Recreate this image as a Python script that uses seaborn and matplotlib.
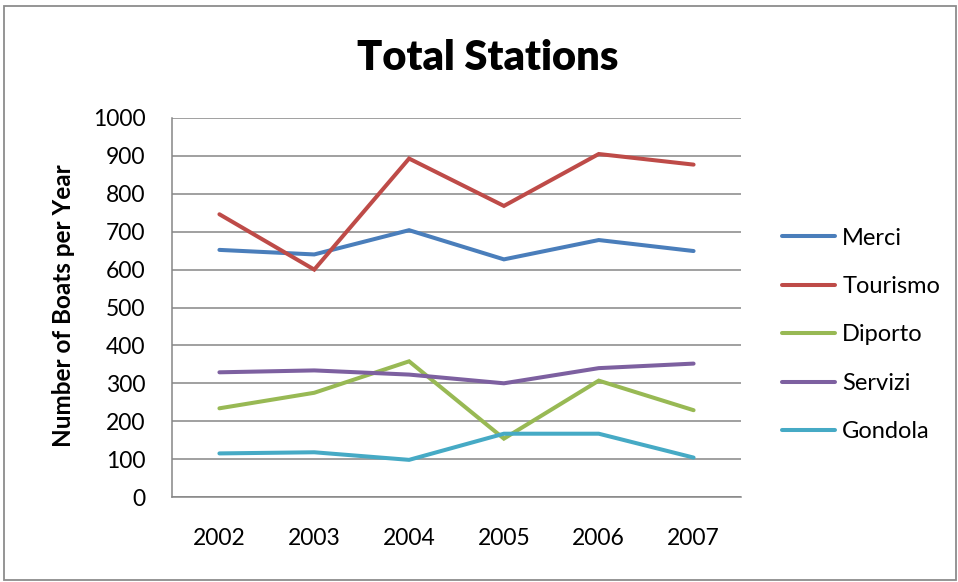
import matplotlib
matplotlib.use('Agg')
import matplotlib.pyplot as plt
import seaborn as sns
import pandas as pd
from matplotlib.patches import Rectangle

# --- data ---
years = ['2002', '2003', '2004', '2005', '2006', '2007']
merci = [652, 640, 704, 627, 678, 649]
tourismo = [746, 600, 893, 768, 905, 877]
diporto = [234, 275, 358, 154, 307, 229]
servizi = [329, 334, 323, 300, 340, 352]
gondola = [115, 118, 98, 167, 167, 104]

series_names = ['Merci', 'Tourismo', 'Diporto', 'Servizi', 'Gondola']
colors = ['#4A7EBB', '#BE4B48', '#98B954', '#7D60A0', '#46AAC5']

df = pd.DataFrame({'Year': years, 'Merci': merci, 'Tourismo': tourismo,
                   'Diporto': diporto, 'Servizi': servizi, 'Gondola': gondola})
df_long = df.melt(id_vars='Year', var_name='Type', value_name='Boats')

sns.set_style('white')
plt.rcParams['font.family'] = ['Lato', 'DejaVu Sans']
plt.rcParams['text.color'] = 'black'
plt.rcParams['xtick.color'] = 'black'
plt.rcParams['ytick.color'] = 'black'
plt.rcParams['axes.labelcolor'] = 'black'

fig = plt.figure(figsize=(9.58, 5.82), dpi=100)
ax = fig.add_axes([172/958, 1 - 497/582, 569/958, 379/582])

sns.lineplot(data=df_long, x='Year', y='Boats', hue='Type', hue_order=series_names,
             palette=colors, linewidth=2.9, sort=False, ax=ax, legend=False)
for ln in ax.lines:
    ln.set_solid_capstyle('round')
    ln.set_solid_joinstyle('miter')

ax.set_xlim(-0.5, 5.5)
ax.set_ylim(0, 1000)
ax.set_yticks(range(0, 1001, 100))
ax.yaxis.grid(True, color='#868686', linewidth=1.1)
ax.set_axisbelow(True)
ax.tick_params(axis='both', length=0, labelsize=16.5)
ax.tick_params(axis='x', pad=22)
ax.tick_params(axis='y', pad=19)
for s in ['top', 'right']:
    ax.spines[s].set_visible(False)
for s in ['left', 'bottom']:
    ax.spines[s].set_color('#868686')
    ax.spines[s].set_linewidth(1.1)

ax.set_xlabel('')
ax.set_ylabel('Number of Boats per Year', fontsize=17.5, fontweight='bold')
ax.yaxis.set_label_coords(-0.17, 0.504)

fig.text(488/958, 1 - 58/582, 'Total Stations', fontsize=30, fontweight='heavy',
         ha='center', va='center')

handles = [plt.Line2D([], [], color=c, linewidth=2.9, solid_capstyle='round') for c in colors]
fig.legend(handles, series_names, loc='center left', bbox_to_anchor=(782/958, 1 - 335/582),
           frameon=False, fontsize=17, handlelength=2.25, handletextpad=0.3,
           labelspacing=1.16, borderpad=0, borderaxespad=0)

# outer chart border
fig.patches.append(Rectangle((3.5/958, 2/582), 952/958, 574/582, transform=fig.transFigure,
                             fill=False, edgecolor='#8c8c8c', linewidth=1.3))

fig.savefig('out.png', dpi=100)
